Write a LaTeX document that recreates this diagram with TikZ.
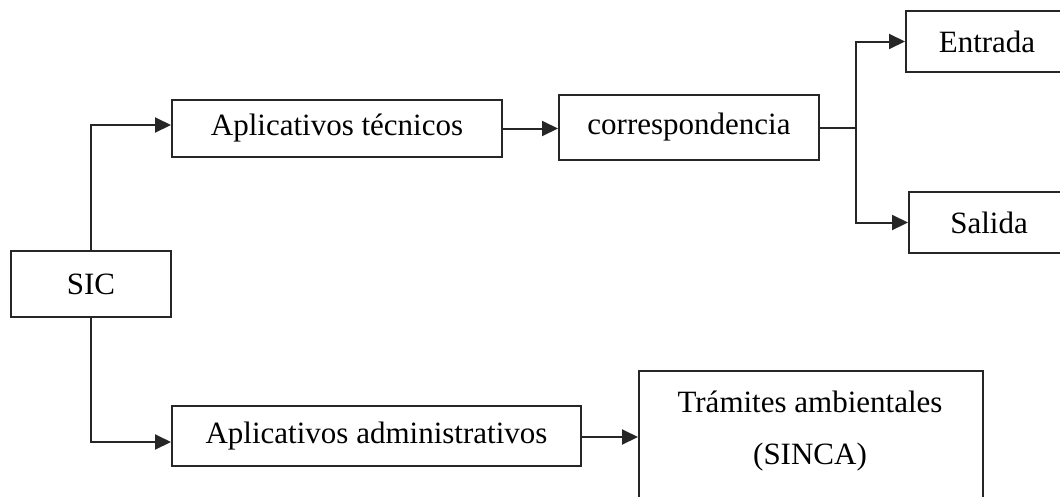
\documentclass[tikz,border=0pt]{standalone}
\usepackage{fontspec}
\setmainfont{Liberation Serif}
\usetikzlibrary{arrows.meta}
\begin{document}
\begin{tikzpicture}[x=1pt,y=-1pt,
  box/.style={draw=black!85, line width=2pt, fill=white, inner sep=0pt, font=\fontsize{31}{37}\selectfont},
  conn/.style={draw=black!85, line width=2pt, line join=miter},
  arr/.style={conn, -{Triangle[length=16pt,width=15pt]}},
  lbl/.style={inner sep=0pt, font=\fontsize{31}{37}\selectfont}]
\clip (0,0) rectangle (1060,496);
\fill[white] (0,0) rectangle (1060,496);
\node[box, minimum width=160pt, minimum height=66pt] (sic) at (91,284) {SIC};
\node[box, minimum width=330pt, minimum height=57pt] (apt) at (337,128.5) {Aplicativos técnicos};
\node[box, minimum width=260pt, minimum height=65pt] (corr) at (689,127.5) {correspondencia};
\node[box, minimum width=162pt, minimum height=61pt] (ent) at (987,41.5) {Entrada};
\node[box, minimum width=160pt, minimum height=61pt] (sal) at (989,222.5) {Salida};
\node[box, minimum width=409pt, minimum height=60pt] (adm) at (376.5,436) {Aplicativos administrativos};
\node[box, minimum width=344pt, minimum height=150pt, anchor=north west] (tram) at (638,370) {};
\node[lbl] (tramA) at (810,402) {Trámites ambientales};
\node[lbl] (tramB) at (810,457) {(SINCA)};
\coordinate (br) at (856,128);
\draw[arr] (sic.north) |- ([yshift=3.5pt]apt.west);
\draw[arr] (sic.south) |- ([yshift=-6pt]adm.west);
\draw[arr] (apt.east) -- (apt.east -| corr.west);
\draw[conn] (corr.east |- br) -- (br);
\draw[arr] (br) |- (ent.west);
\draw[arr] (br) |- (sal.west);
\draw[arr] ([yshift=-1pt]adm.east) -- ([yshift=-1pt]adm.east -| tram.west);
\end{tikzpicture}
\end{document}
